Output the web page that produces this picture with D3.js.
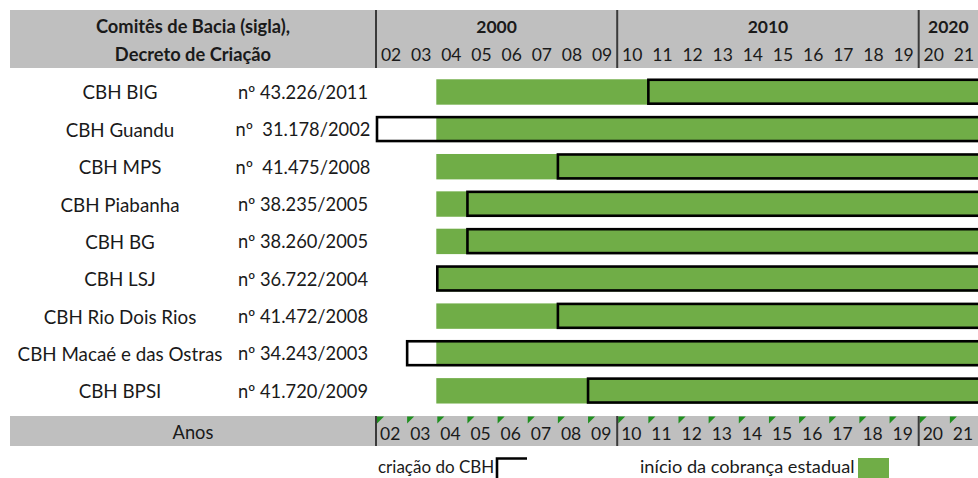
<!DOCTYPE html>
<html><head><meta charset="utf-8">
<script src="https://cdn.jsdelivr.net/npm/d3@7"></script>
<style>
html,body{margin:0;padding:0;background:#fff;}
svg text{font-family:Lato,"Open Sans",sans-serif;white-space:pre;fill:#1a1a1a;}
</style></head>
<body><svg id="chart" width="978" height="478"></svg>
<script>
const committees = ["CBH BIG","CBH Guandu","CBH MPS","CBH Piabanha","CBH BG","CBH LSJ","CBH Rio Dois Rios","CBH Macaé e das Ostras","CBH BPSI"];
const decrees = ["nº 43.226/2011","nº  31.178/2002","nº  41.475/2008","nº 38.235/2005","nº 38.260/2005","nº 36.722/2004","nº 41.472/2008","nº 34.243/2003","nº 41.720/2009"];
const creationYear = [2011,2002,2008,2005,2005,2004,2008,2003,2009];
const cobrancaStart = [2004,2004,2004,2004,2004,2004,2004,2004,2004];
const years = [2002,2003,2004,2005,2006,2007,2008,2009,2010,2011,2012,2013,2014,2015,2016,2017,2018,2019,2020,2021];
const yearLabels = ["02","03","04","05","06","07","08","09","10","11","12","13","14","15","16","17","18","19","20","21"];
const decades = [2000,2010,2020];
const decadeStarts = [2002,2010,2020];
const endYear = 2022;

const svg = d3.select("#chart");
const x = d3.scaleLinear().domain([2002, endYear]).range([376, 979]);
const y = d3.scaleBand().domain(d3.range(committees.length)).range([73.3, 409.5]).paddingInner(0.32).paddingOuter(0.16);
const colW = x(2003) - x(2002);
const green = "#70AD47", gray = "#BFBFBF", sep = "#3a3a3a";

// Header
svg.append("rect").attr("x",10).attr("y",10).attr("width",968).attr("height",58).attr("fill",gray);
svg.append("text").attr("x",193).attr("y",26).attr("text-anchor","middle").attr("dominant-baseline","central")
  .attr("font-weight","bold").attr("font-size",18.3).text("Comitês de Bacia (sigla),");
svg.append("text").attr("x",193).attr("y",54).attr("text-anchor","middle").attr("dominant-baseline","central")
  .attr("font-weight","bold").attr("font-size",18.3).text("Decreto de Criação");
const decEnds = [2010,2020,endYear];
decades.forEach((d,i)=>{
  svg.append("text").attr("x",(x(decadeStarts[i])+Math.min(x(decEnds[i]),978))/2).attr("y",26)
    .attr("text-anchor","middle").attr("dominant-baseline","central").attr("font-weight","bold").attr("font-size",17.5).text(d);
});
svg.selectAll(".hy").data(years).join("text").attr("x",d=>x(d)+colW/2).attr("y",54)
  .attr("text-anchor","middle").attr("dominant-baseline","central").attr("font-size",17.5).text((d,i)=>yearLabels[i]);
[2002,2010,2020].forEach(d=>{
  svg.append("line").attr("x1",x(d)).attr("x2",x(d)).attr("y1",10).attr("y2",68).attr("stroke",sep).attr("stroke-width",2);
});

// Rows
committees.forEach((c,i)=>{
  const cy = y(i)+y.bandwidth()/2;
  svg.append("text").attr("x",120).attr("y",cy).attr("text-anchor","middle").attr("dominant-baseline","central").attr("font-size",18.8).text(c);
  svg.append("text").attr("x",303).attr("y",cy).attr("text-anchor","middle").attr("dominant-baseline","central").attr("font-size",18.3).text(decrees[i]);
});
svg.selectAll(".bar").data(cobrancaStart).join("rect").attr("class","bar")
  .attr("x",d=>x(d)).attr("y",(d,i)=>y(i)).attr("width",d=>x(endYear)-x(d)).attr("height",y.bandwidth()).attr("fill",green);
svg.selectAll(".cre").data(creationYear).join("rect").attr("class","cre")
  .attr("x",d=>x(d)+1).attr("y",(d,i)=>y(i)+0.5).attr("width",d=>x(endYear)-x(d)+5).attr("height",y.bandwidth()-1.5)
  .attr("fill","none").attr("stroke","#000").attr("stroke-width",2.6);

// Bottom row
svg.append("rect").attr("x",10).attr("y",416).attr("width",968).attr("height",30).attr("fill",gray);
svg.append("text").attr("x",193).attr("y",432).attr("text-anchor","middle").attr("dominant-baseline","central").attr("font-size",18.3).text("Anos");
svg.selectAll(".by").data(years).join("text").attr("x",d=>x(d)+4).attr("y",433)
  .attr("dominant-baseline","central").attr("font-size",17.5).text((d,i)=>yearLabels[i]);
svg.selectAll(".tri").data(years).join("path")
  .attr("d",d=>`M${x(d)+1},416.5 L${x(d)+8},416.5 L${x(d)+1},423.5 Z`).attr("fill","#1f8f1f");
[2002,2010,2020].forEach(d=>{
  svg.append("line").attr("x1",x(d)).attr("x2",x(d)).attr("y1",416).attr("y2",446).attr("stroke",sep).attr("stroke-width",2);
});

// Legend
svg.append("text").attr("x",378).attr("y",466).attr("dominant-baseline","central").attr("font-size",17).text("criação do CBH");
svg.append("path").attr("d","M497,480 L497,458.5 L527,458.5").attr("fill","none").attr("stroke","#000").attr("stroke-width",2.6);
svg.append("text").attr("x",640).attr("y",466).attr("dominant-baseline","central").attr("font-size",18.2).text("início da cobrança estadual");
svg.append("rect").attr("x",858).attr("y",458).attr("width",31).attr("height",20).attr("fill",green);
</script></body></html>
